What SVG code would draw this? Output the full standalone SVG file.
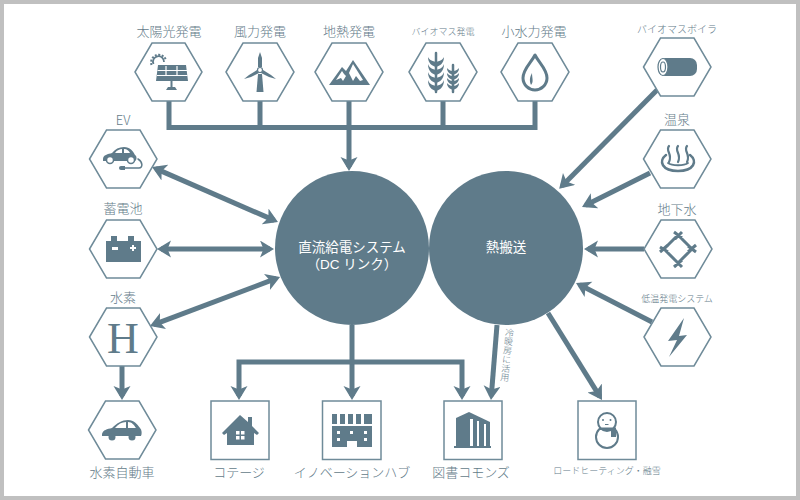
<svg xmlns="http://www.w3.org/2000/svg" width="800" height="500" viewBox="0 0 800 500">
<style>
.bg{fill:#fff;stroke:#c0c0c0;stroke-width:8}
.n{fill:#fff;stroke:#6f8b99;stroke-width:1.5}
.i{fill:#5f7b8a}
.w{fill:#fff}
.ws{fill:none;stroke:#fff;stroke-width:1.2}
.is{fill:none;stroke:#5f7b8a;stroke-width:2.5;stroke-linecap:round;stroke-linejoin:round}
.hub{fill:#5f7b8a}
.c{fill:none;stroke:#5f7b8a;stroke-width:5}
.a{marker-end:url(#ah)}
.b{marker-start:url(#ah);marker-end:url(#ah)}
text{font-family:"Noto Sans CJK JP","Noto Sans",sans-serif;font-weight:300;fill:#637b89;text-anchor:middle;font-size:13px}
.s{font-size:9px}
.m{font-size:10px}
.t{font-family:"Liberation Sans","Noto Sans CJK JP",sans-serif;fill:#fff;font-weight:400;font-size:13.500px}
</style>
<defs>
<marker id="ah" markerUnits="userSpaceOnUse" markerWidth="15" markerHeight="18" refX="10" refY="8.500" orient="auto-start-reverse" viewBox="0 0 15 18">
<path d="M14 8.500L0 0L3.500 8.500L0 17Z" fill="#5f7b8a"/>
</marker>
</defs>
<rect class="bg" x="0" y="0" width="800" height="500"/>

<g id="connectors">
<path class="c" d="M169 101V127.500H535V101M260 101V127M443 101V127"/>
<path class="c a" d="M349 101V167"/>
<path class="c a" d="M657 90L562 186"/>
<path class="c a" d="M650 173L585.600 205.200"/>
<path class="c a" d="M644 249H588"/>
<path class="c a" d="M652 322L579.600 284.800"/>
<path class="c a" d="M548 313L599.900 396.600"/>
<path class="c a" d="M497 325L491.300 396"/>
<path class="c b" d="M155.700 168.600L274.300 220.400"/>
<path class="c b" d="M161 249H270"/>
<path class="c b" d="M153.700 324.600L276.300 278.400"/>
<path class="c a" d="M122 366V396"/>
<path class="c" d="M352 325V362"/>
<path class="c a" d="M352 362V396"/>
<path class="c a" d="M352 362H239V396"/>
<path class="c a" d="M352 362H462V396"/>
</g>

<g id="dc-link">
<circle class="hub" cx="352" cy="248" r="77"/>
<text class="t" x="352" y="251.500">直流給電システム</text>
<text class="t" x="352" y="268.500">（DC リンク）</text>
</g>
<g id="heat">
<circle class="hub" cx="506" cy="248" r="77"/>
<text class="t" x="506" y="251.500">熱搬送</text>
</g>

<g id="solar">
<text x="169" y="35.500">太陽光発電</text>
<polygon class="n" points="135,72 152,43 185,43 202,72 185,101 152,101"/>
<path class="is" style="stroke-width:1.800;stroke-linecap:butt" d="M153.500 64A5.500 5.500 0 1 1 164 62"/>
<path class="is" style="stroke-width:2;stroke-dasharray:2 1.500;stroke-linecap:butt" d="M151.500 65A7.500 7.500 0 1 1 166 60"/>
<polygon class="i" points="158,65 186,65 188,81 156,81"/>
<path class="ws" d="M157.500 70.500H187M157 75.500H187.500M166 66V76M177 66V76"/>
<rect class="i" x="170.500" y="81" width="2" height="6"/>
<polygon class="i" points="168,87 175,87 177,90 166,90"/>
</g>
<g id="wind">
<text x="260" y="35.500">風力発電</text>
<polygon class="n" points="226,72 243,43 277,43 294,72 277,101 243,101"/>
<polygon class="i" points="256.500,92 263.500,92 262,74 258,74"/>
<polygon class="i" points="260,52 262,58 262,67 258,67 258,58"/>
<polygon class="i" points="244,79 249,75 257,70 259,73 251,77"/>
<polygon class="i" points="276,79 271,75 263,70 261,73 269,77"/>
<circle cx="260" cy="70" r="2.500" fill="#fff" stroke="#5f7b8a" stroke-width="1.200"/>
</g>
<g id="geothermal">
<text x="349" y="35.500">地熱発電</text>
<polygon class="n" points="315,72 332,43 366,43 383,72 366,101 332,101"/>
<polygon class="i" points="329,85 342,67 346,71 353,60 370,85"/>
<polygon class="w" points="342,71 336,80 341,78 343,81 346,76 344,74"/>
<polygon class="w" points="353,64 349,73 353,81 356,76 360,81 363,80"/>
</g>
<g id="biomass">
<text class="s" x="443" y="35">バイオマス発電</text>
<polygon class="n" points="409,72 426,43 460,43 477,72 460,101 426,101"/>
<path class="is" style="stroke-width:2.500" d="M436 53V92M453 65V92"/>
<path class="i" d="M436 62C431 61 429 59 428 57C428 63 432 66 436 67C440 66 444 63 444 57C443 59 441 61 436 62ZM436 70C431 69 429 67 428 64C428 71 432 74 436 75C440 74 444 71 444 64C443 67 441 69 436 70ZM436 78C431 77 429 75 428 72C428 79 432 82 436 83C440 82 444 79 444 72C443 75 441 77 436 78ZM436 86C431 85 429 83 428 80C428 87 432 90 436 91C440 90 444 87 444 80C443 83 441 85 436 86Z"/>
<path class="i" d="M453 71C450 71 448 69 447 68C447 72 450 74 453 75C456 74 459 72 459 68C458 69 456 71 453 71ZM453 76C450 76 448 74 447 73C447 77 450 79 453 80C456 79 459 77 459 73C458 74 456 76 453 76ZM453 81C450 81 448 79 447 78C447 82 450 84 453 85C456 84 459 82 459 78C458 79 456 81 453 81ZM453 86C450 86 448 84 447 83C447 87 450 89 453 90C456 89 459 87 459 83C458 84 456 86 453 86Z"/>
</g>
<g id="hydro">
<text x="534" y="35.500">小水力発電</text>
<polygon class="n" points="501,72 518,43 552,43 569,72 552,101 518,101"/>
<path class="is" style="stroke-width:3" d="M535 55C531 63 523 69 523 78C523 85 529 90 535 90C541 90 547 85 547 78C547 69 539 63 535 55Z"/>
<path class="i" d="M531 85C529 80 530 77 532 73C532 78 534 82 531 85Z"/>
</g>
<g id="boiler">
<text class="m" x="677" y="33">バイオマスボイラ</text>
<polygon class="n" points="643.500,67 660.500,38 694,38 711,67 694,96 660.500,96"/>
<rect class="i" x="658" y="58" width="39" height="18" rx="7"/>
<ellipse cx="663" cy="67" rx="5" ry="8.500" fill="#fff" stroke="#5f7b8a" stroke-width="1.200"/>
<ellipse cx="663" cy="67" rx="2.500" ry="5" fill="none" stroke="#5f7b8a" stroke-width="1.200"/>
</g>
<g id="onsen">
<text x="677" y="124">温泉</text>
<polygon class="n" points="643.500,159 660.500,130 694,130 711,159 694,188 660.500,188"/>
<path class="is" style="stroke-width:2.200" d="M669 146C665 151 673 154 669 162M678 146C674 151 682 154 678 162M687 146C683 151 691 154 687 162"/>
<path class="is" style="stroke-width:2.500" d="M666 155C658 161 662 171 678 171C694 171 698 161 690 155"/>
<path class="is" style="stroke-width:1.800" d="M668 163C672 166 684 166 688 163"/>
</g>
<g id="groundwater">
<text x="677" y="214">地下水</text>
<polygon class="n" points="644,249 661,220 695,220 712,249 695,278 661,278"/>
<path class="is" style="stroke-width:3;stroke-linecap:butt" d="M678 235L692 249L678 263L664 249ZM674 232L682 238M682 232L675 239M660 247L668 252M668 245L660 252M688 246L696 252M696 245L688 252M674 267L682 260M675 260L682 267"/>
</g>
<g id="lowtemp">
<text class="s" x="677" y="302">低温発電システム</text>
<polygon class="n" points="644,337 661,308 694,308 711,337 694,366 661,366"/>
<polygon class="i" points="684,318 668,341 677,340 669,357 687,335 679,336"/>
</g>
<g id="ev">
<text x="123" y="125">EV</text>
<polygon class="n" points="89.500,159 106.500,130 140,130 157,159 140,188 106.500,188"/>
<path class="i" d="M103 159C103 155 108 154 112 153C115 149 119 147 124 147C130 147 133 151 135 155C137 156 137 160 135 161H103Z"/>
<path class="w" d="M115 153C117 150 120 149 122 149V153ZM124 149C127 149 129 151 130 153H124Z"/>
<circle cx="110" cy="160" r="3.500" fill="#fff" stroke="#5f7b8a" stroke-width="1.500"/>
<circle cx="131" cy="160" r="3.500" fill="#fff" stroke="#5f7b8a" stroke-width="1.500"/>
<path class="is" style="stroke-width:1.500" d="M125 168H139C143 168 143 162 138 159"/>
<path class="i" d="M121 166H125V170H121A2 2 0 0 1 121 166Z"/>
</g>
<g id="battery">
<text x="123" y="213">蓄電池</text>
<polygon class="n" points="89.500,249 106.500,220 140,220 157,249 140,278 106.500,278"/>
<path class="i" d="M106 241H111V236H117V241H128V236H134V241H141V262H106Z"/>
<path class="w" d="M112 247H118V250H112ZM130 247H132V245H134V247H136V249H134V251H132V249H130Z"/>
</g>
<g id="hydrogen">
<text x="123" y="302">水素</text>
<polygon class="n" points="89.500,337 106.500,308 140,308 157,337 140,366 106.500,366"/>
<text x="123" y="353" style="font-family:'Liberation Serif',serif;font-size:44px;font-weight:400;fill:#5f7b8a">H</text>
</g>
<g id="fcv">
<polygon class="n" points="88.500,430 105.500,401 139,401 156,430 139,459 105.500,459"/>
<path class="i" d="M102 434C103 430 107 429 112 428C117 423 122 420 128 420C134 420 137 424 140 428C142 430 142 434 141 436H102Z"/>
<path class="w" d="M115 428C118 424 122 422 126 422V428ZM128 422C132 422 134 425 136 428H128Z"/>
<circle cx="112" cy="437" r="3.500" class="i"/>
<circle cx="132" cy="437" r="3.500" class="i"/>
<text x="122" y="477">水素自動車</text>
</g>
<g id="cottage">
<rect class="n" x="211" y="401" width="58" height="58.500"/>
<path class="i" d="M222 433L240 415L248 422V417H252V426L259 433L257 435L254 433V445H227V433L224 435Z"/>
<path class="w" d="M236 431H239.500V434.500H236ZM241 431H244.500V434.500H241ZM236 436H239.500V439.500H236ZM241 436H244.500V439.500H241Z"/>
<text x="239" y="477">コテージ</text>
</g>
<g id="hub-building">
<rect class="n" x="322.500" y="401" width="58.500" height="58.500"/>
<path class="i" d="M332 414H337V424H332ZM340 414H345V424H340ZM348 414H353V424H348ZM356 414H361V424H356ZM364 414H372V424H364ZM332 426H372V447H357V441H347V447H332Z"/>
<path class="w" d="M337 431H340V434H337ZM350 431H353V434H350ZM364 431H367V434H364ZM337 438H340V441H337ZM364 438H367V441H364Z"/>
<text x="352" y="477">イノベーションハブ</text>
</g>
<g id="library">
<rect class="n" x="444" y="401" width="58" height="58.500"/>
<path class="i" d="M456 418L469 412L490 422V447H456Z"/>
<path class="w" d="M470 419H473V447H470ZM477 421H479V447H477ZM484 424H486V447H484Z"/>
<rect class="i" x="454" y="446" width="37" height="2"/>
<text x="471" y="477">図書コモンズ</text>
</g>
<g id="road">
<rect class="n" x="578" y="401" width="58" height="58.500"/>
<circle cx="607" cy="437" r="11" fill="none" stroke="#5f7b8a" stroke-width="2"/>
<circle cx="607" cy="422" r="9" fill="#fff" stroke="#5f7b8a" stroke-width="2"/>
<circle cx="603" cy="420" r="1" class="i"/>
<circle cx="610.500" cy="420" r="1" class="i"/>
<rect class="i" x="605" y="424" width="3.500" height="1"/>
<path class="i" d="M600 427.500H616V430H616V437H611V430H600Z"/>
<text class="s" x="607" y="474">ロードヒーティング・融雪</text>
</g>
<g id="label-hvac">
<text class="s" x="510" y="328" transform="rotate(6 510 328)" style="writing-mode:vertical-rl;text-anchor:start">冷暖房に活用</text>
</g>
</svg>
